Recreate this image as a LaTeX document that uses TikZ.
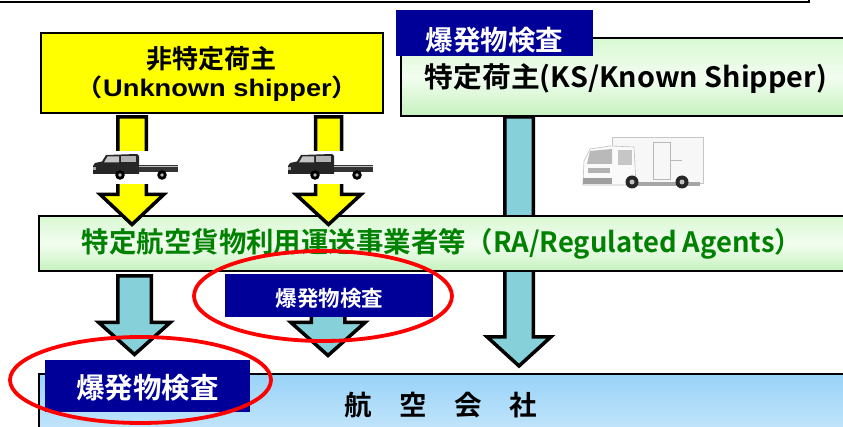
\documentclass[tikz,border=0pt]{standalone}
\usepackage{fontspec}
\usepackage{graphicx}
\setmainfont{Noto Sans CJK JP}[BoldFont={Noto Sans CJK JP Bold}]
\newfontfamily\latsans{Liberation Sans}
\usetikzlibrary{calc,shapes.geometric}

\definecolor{labelnavy}{HTML}{000099}
\definecolor{flowyellow}{HTML}{FFFF00}
\definecolor{flowblue}{HTML}{86D0DA}
\definecolor{ratext}{HTML}{008200}
\definecolor{mintlight}{HTML}{F2FDF0}
\definecolor{minttop}{HTML}{D8F8D2}
\definecolor{mintbottom}{HTML}{C6F2BE}
\definecolor{skytop}{HTML}{98D3F8}
\definecolor{skybottom}{HTML}{D4ECFC}
\definecolor{checkred}{HTML}{FF0000}

% stretch a text horizontally to a given width (pt), keeping its height
\newcommand\fitx[2]{\resizebox{#1pt}{\height}{#2}}

% block arrow: style, start, tip, half shaft width, half head width, head length
\newcommand\blockarrow[6]{%
  \draw[#1] let \p1=(#2), \p2=(#3) in
    (\x2-#4pt,\y1) -- (\x2+#4pt,\y1) -- (\x2+#4pt,\y2+#6pt) -- (\x2+#5pt,\y2+#6pt)
    -- (\x2,\y2) -- (\x2-#5pt,\y2+#6pt) -- (\x2-#4pt,\y2+#6pt) -- cycle;}

\tikzset{
  pickup/.pic={
    \fill[white] (-1,-2) rectangle (87,31);
    \fill[black!85] (0,13) -- (2,10) -- (9,8.5) -- (13,2) -- (44,1) -- (46,3) -- (46,21) -- (0,21) -- cycle;
    \fill[gray!45] (14.5,3.5) -- (26,3.5) -- (26,9.5) -- (11,9.5) -- cycle;
    \fill[gray!60] (28,3.5) -- (43,3.5) -- (43,9.5) -- (28,9.5) -- cycle;
    \fill[black!80] (46,12) rectangle (85,19);
    \draw[gray!50,line width=0.6] (46,13) -- (85,13);
    \fill[gray!70] (0,14.5) rectangle (3,17.5);
    \fill[black] (27,22) circle (4.8) (69,22) circle (4.8);
    \fill[gray!55] (27,22) circle (1.8) (69,22) circle (1.8);
  },
  boxtruck/.pic={
    \fill[white] (-2,-2) rectangle (127,58);
    \filldraw[fill=gray!6,draw=gray!45,line width=0.7] (30,2) rectangle (121,48);
    \draw[gray!55,line width=0.6] (71,7) rectangle (88,44) (88,25) -- (100,25);
    \fill[gray!70] (50,47) rectangle (118,51);
    \filldraw[fill=gray!4,draw=gray!50,line width=0.6] (1,47) -- (2,26) -- (8,14) -- (28,11) -- (52,12) -- (54,50) -- (1,50) -- cycle;
    \fill[gray!55] (8,16) -- (30,14) -- (30,29) -- (5,29) -- cycle;
    \fill[gray!45] (36,15) -- (50,15) -- (50,30) -- (36,30) -- cycle;
    \fill[gray!60] (6,33) rectangle (28,38);
    \fill[gray!75] (1,43) rectangle (30,49);
    \fill[black!85] (50,47) circle (6.5) (100,47) circle (6.5);
    \fill[gray!50] (50,47) circle (2.5) (100,47) circle (2.5);
  }
}

\begin{document}
\begin{tikzpicture}[x=1pt,y=-1pt,
  panel/.style={draw=black,line width=1.8,anchor=north west,inner sep=0},
  mint/.style={top color=minttop,bottom color=mintbottom,middle color=mintlight},
  sky/.style={top color=skytop,bottom color=skybottom},
  tag/.style={fill=labelnavy,anchor=north west,inner sep=0},
  tagtext/.style={text=white,inner sep=0},
  txt/.style={inner sep=0},
  flow/.style={draw=black,line width=3.5,line join=miter,miter limit=10},
  check/.style={draw=checkred,line width=3.8,ellipse,inner sep=0}]

\useasboundingbox (0,0) rectangle (843,427);
\clip (0,0) rectangle (843,427);

% frame edge of the heading area
\node[draw,line width=2,anchor=south east,minimum width=830,minimum height=60,inner sep=0] (header) at (810,3) {};

% arrow ends
\coordinate (uA) at (132,117);    \coordinate (uB) at (132,224.5);
\coordinate (vA) at (328.5,117);  \coordinate (vB) at (328.5,224.5);
\coordinate (kA) at (519,117);    \coordinate (kB) at (519,366);
\coordinate (rA) at (134.5,276);  \coordinate (rB) at (134.5,354.5);
\coordinate (sA) at (328,276);    \coordinate (sB) at (328,355.5);

% known shipper straight to the airline
\blockarrow{flow,fill=flowblue}{kA}{kB}{14.25}{31.75}{29}

% unknown shipper
\node[panel,fill=flowyellow,minimum width=342,minimum height=80] (unknown) at (40,32) {};
\node[txt,font=\bfseries\fontsize{26}{26}\selectfont] (unknownja) at (211.5,59) {非特定荷主};
\node[txt,font=\bfseries\fontsize{24}{24}\selectfont] (unknownen) at (217.5,89) {\fitx{283}{（{\latsans Unknown shipper}）}};

% known shipper
\node[panel,mint,minimum width=460,minimum height=78] (known) at (400,37) {};
\node[tag,minimum width=197,minimum height=46] (tagks) at (396,10) {};
\node[tagtext,font=\bfseries\fontsize{27.5}{27.5}\selectfont] (tagkstext) at (494.5,40) {爆発物検査};
\node[txt,font=\bfseries\fontsize{28}{28}\selectfont] (knownlabel) at (626,79) {\fitx{402}{特定荷主(KS/Known Shipper)}};

\pic at (582,135) {boxtruck};

% regulated agents
\node[panel,mint,minimum width=820,minimum height=55] (ra) at (38,215) {};
\node[txt,text=ratext,font=\bfseries\fontsize{28}{28}\selectfont] (ralabel) at (442,244) {\fitx{720}{特定航空貨物利用運送事業者等（RA/Regulated Agents）}};

\blockarrow{flow,fill=flowyellow}{uA}{uB}{14.25}{31.75}{30}
\blockarrow{flow,fill=flowyellow}{vA}{vB}{13}{32.5}{30}
\pic at (93,153) {pickup};
\pic at (288,153) {pickup};

\blockarrow{flow,fill=flowblue}{rA}{rB}{16.75}{35.75}{32}
\blockarrow{flow,fill=flowblue}{sA}{sB}{16.75}{37}{33}

% airline
\node[panel,sky,line width=1.5,minimum width=820,minimum height=80] (airline) at (38,373) {};
\node[txt,font=\bfseries\fontsize{27.5}{27.5}\selectfont] (airlinelabel) at (441,405) {航　空　会　社};

\node[tag,minimum width=205,minimum height=52] (tagair) at (45,360) {};
\node[tagtext,font=\bfseries\fontsize{28.5}{28.5}\selectfont] (tagairtext) at (147.5,388) {爆発物検査};
\node[tag,minimum width=208,minimum height=43] (tagra) at (225,274) {};
\node[tagtext,font=\bfseries\fontsize{21.5}{21.5}\selectfont] (tagratext) at (329.5,298) {爆発物検査};

% screening points
\node[check,minimum width=258,minimum height=90] (ringra) at (323,296) {};
\node[check,minimum width=261,minimum height=86] (ringair) at (140.5,380) {};
\end{tikzpicture}
\end{document}
